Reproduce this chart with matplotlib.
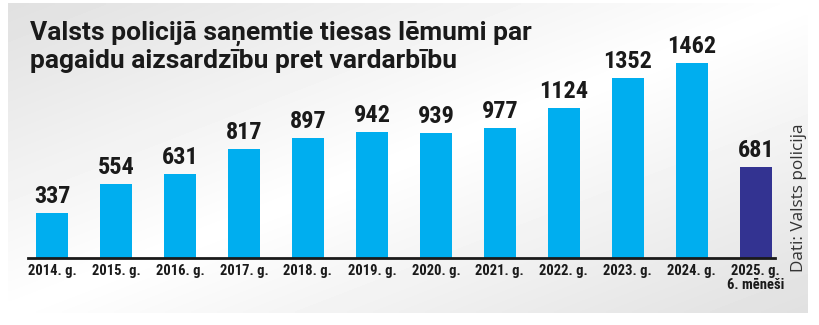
import numpy as np
from matplotlib import pyplot as plt
from matplotlib import font_manager

years = ['2014. g.', '2015. g.', '2016. g.', '2017. g.', '2018. g.', '2019. g.',
         '2020. g.', '2021. g.', '2022. g.', '2023. g.', '2024. g.', '2025. g.\n6. mēneši']
values = [337, 554, 631, 817, 897, 942, 939, 977, 1124, 1352, 1462, 681]
colors = ['#00aeef'] * 11 + ['#333391']

names = {f.name for f in font_manager.fontManager.ttflist}
narrow = [n for n in ['Liberation Sans Narrow', 'DejaVu Sans Condensed', 'Roboto Condensed'] if n in names]
narrow = narrow + ['DejaVu Sans']

fig = plt.figure(figsize=(8.2, 3.25), dpi=100)

# background panel with soft gradient
bg = fig.add_axes([0, 0, 1, 1], zorder=-1)
xx, yy = np.meshgrid(np.linspace(0, 1, 200), np.linspace(0, 1, 100))
s = xx + yy
shade = 1 - 0.12 * np.abs(s - 1)
bg.imshow(shade, cmap='gray', vmin=0, vmax=1, extent=[8, 808, 313, 3],
          aspect='auto', interpolation='bilinear')
bg.set_xlim(0, 820)
bg.set_ylim(325, 0)
bg.axis('off')

ax = fig.add_axes([28 / 820, 67 / 325, (775 - 28) / 820, 238 / 325])
ax.patch.set_alpha(0)
x = np.arange(len(values))
bars = ax.bar(x, values, width=0.5, color=colors)
ax.set_xlim(-0.375, 11.3)
ax.set_ylim(0, 1784)
for b, v in zip(bars, values):
    ax.text(b.get_x() + b.get_width() / 2, v + 38, str(v), ha='center', va='bottom',
            fontsize=17.5, fontweight='bold', family=narrow, color='#1a1a1a')

for side in ['top', 'right', 'left']:
    ax.spines[side].set_visible(False)
ax.spines['bottom'].set_linewidth(2)
ax.spines['bottom'].set_color('#1a1a1a')
ax.set_yticks([])
ax.set_xticks(x)
ax.set_xticklabels(years, fontsize=10.5, fontweight='bold', family=narrow,
                   color='#1a1a1a', linespacing=1.05)
ax.tick_params(axis='x', length=0, pad=4)

fig.text(30 / 820, 1 - 21 / 325,
         'Valsts policijā saņemtie tiesas lēmumi par\npagaidu aizsardzību pret vardarbību',
         ha='left', va='top', fontsize=19, fontweight='bold', family=['Roboto', 'DejaVu Sans'],
         color='#1a1a1a', linespacing=1.15)

fig.text(799 / 820, 1 - 198 / 325, 'Dati: Valsts policija', rotation=90,
         ha='center', va='center', fontsize=12.3, family=['Open Sans', 'DejaVu Sans'],
         color='#333333')

fig.savefig('out.png', dpi=100)
